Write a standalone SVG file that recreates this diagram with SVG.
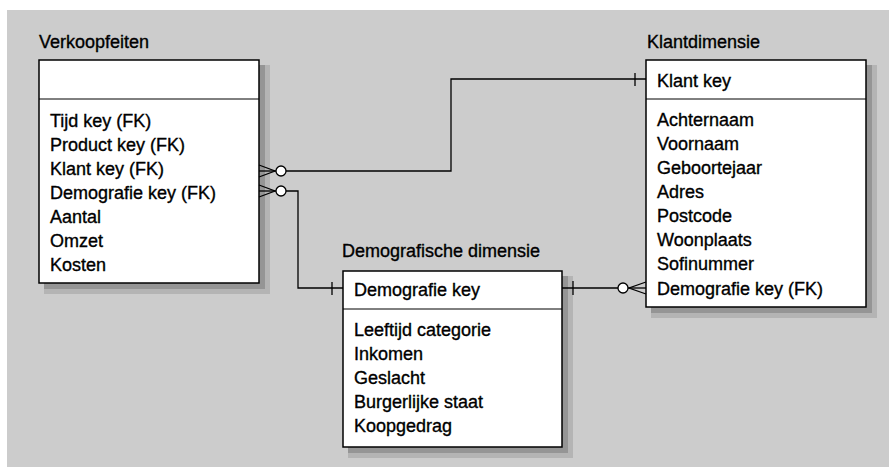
<svg xmlns="http://www.w3.org/2000/svg" width="889" height="467" viewBox="0 0 889 467">
<style>
text{font-family:"Liberation Sans",Arial,sans-serif;font-size:18px;fill:#000;stroke:#000;stroke-width:0.35}
.box{fill:#fff;stroke:#000;stroke-width:1.5}
.div{stroke:#000;stroke-width:1}
.sh1{fill:#b4b4b4}
.sh2{fill:#959595}
.ln{fill:none;stroke:#000;stroke-width:1.3}
.cir{fill:#fff;stroke:#000;stroke-width:1.3}
</style>
<rect x="7" y="10" width="882" height="457" fill="#cccccc"/>
<g id="verkoopfeiten">
<rect class="sh1" x="44" y="65" width="226" height="229"/>
<rect class="sh2" x="44" y="65" width="221" height="224"/>
<rect class="box" x="39" y="60" width="220" height="223"/>
<line class="div" x1="39" y1="99" x2="259" y2="99"/>
<text x="39" y="48">Verkoopfeiten</text>
<text x="50" y="127">Tijd key (FK)</text>
<text x="50" y="151">Product key (FK)</text>
<text x="50" y="175">Klant key (FK)</text>
<text x="50" y="199">Demografie key (FK)</text>
<text x="50" y="223">Aantal</text>
<text x="50" y="247">Omzet</text>
<text x="50" y="271">Kosten</text>
</g>
<g id="klantdimensie">
<rect class="sh1" x="651" y="65" width="226" height="253"/>
<rect class="sh2" x="651" y="65" width="221" height="248"/>
<rect class="box" x="646" y="60" width="220" height="247"/>
<line class="div" x1="646" y1="99" x2="866" y2="99"/>
<text x="647" y="48">Klantdimensie</text>
<text x="657" y="87">Klant key</text>
<text x="657" y="126">Achternaam</text>
<text x="657" y="150">Voornaam</text>
<text x="657" y="174">Geboortejaar</text>
<text x="657" y="198">Adres</text>
<text x="657" y="222">Postcode</text>
<text x="657" y="246">Woonplaats</text>
<text x="657" y="270">Sofinummer</text>
<text x="657" y="295">Demografie key (FK)</text>
</g>
<g id="demografische">
<rect class="sh1" x="348" y="276" width="225" height="182"/>
<rect class="sh2" x="348" y="276" width="220" height="177"/>
<rect class="box" x="343" y="271" width="219" height="176"/>
<line class="div" x1="343" y1="309" x2="562" y2="309"/>
<text x="342" y="257">Demografische dimensie</text>
<text x="354" y="296">Demografie key</text>
<text x="354" y="336">Leeftijd categorie</text>
<text x="354" y="360">Inkomen</text>
<text x="354" y="384">Geslacht</text>
<text x="354" y="408">Burgerlijke staat</text>
<text x="354" y="432">Koopgedrag</text>
</g>
<g id="connectors">
<polyline class="ln" points="286,171 451,171 451,79 646,79"/>
<line class="ln" x1="635" y1="73" x2="635" y2="86"/>
<polyline class="ln" points="259,165 275,171 259,177"/>
<line class="ln" x1="259" y1="171" x2="276" y2="171"/>
<circle class="cir" cx="281" cy="171" r="5"/>
<polyline class="ln" points="286,191 298,191 298,288 343,288"/>
<line class="ln" x1="332" y1="282" x2="332" y2="295"/>
<polyline class="ln" points="259,185 275,191 259,197"/>
<line class="ln" x1="259" y1="191" x2="276" y2="191"/>
<circle class="cir" cx="281" cy="191" r="5"/>
<line class="ln" x1="562" y1="288" x2="618" y2="288"/>
<line class="ln" x1="573" y1="281" x2="573" y2="295"/>
<polyline class="ln" points="646,282 629,288 646,294"/>
<line class="ln" x1="628" y1="288" x2="646" y2="288"/>
<circle class="cir" cx="623" cy="288" r="5"/>
</g>
</svg>
